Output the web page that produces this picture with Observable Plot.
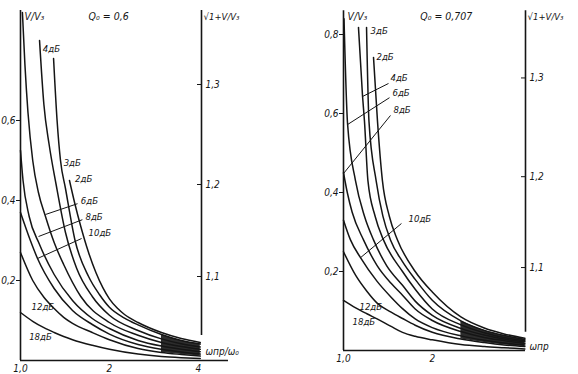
<!DOCTYPE html>
<html><head><meta charset="utf-8">
<script src="https://cdn.jsdelivr.net/npm/d3@7"></script>
<script src="https://cdn.jsdelivr.net/npm/@observablehq/plot@0.6"></script>
<style>
body{margin:0;background:#fff;}
#wrap{position:relative;width:578px;height:374px;overflow:hidden;background:#fff;}
#wrap svg{position:absolute;top:0;}
</style></head><body><div id="wrap"></div>
<script>
// ---- Left panel (Q0 = 0,6): curves [ω/ω0, V/V3]
const L2  = [[1.465,0.45],[1.53,0.39],[1.6,0.335],[1.7,0.27],[1.8,0.22],[1.9,0.182],[2,0.154],[2.125,0.131],[2.25,0.115],[2.5,0.095],[3,0.07],[3.5,0.055],[4.06,0.045]];
const L3  = [[1.294,0.755],[1.33,0.6],[1.366,0.5],[1.42,0.43],[1.53,0.3],[1.7,0.21],[1.85,0.165],[2,0.133],[2.25,0.106],[2.5,0.089],[3,0.065],[3.5,0.05],[4.06,0.041]];
const L4  = [[1.16,0.8],[1.2,0.64],[1.25,0.54],[1.32,0.44],[1.42,0.32],[1.55,0.23],[1.75,0.16],[2,0.113],[2.5,0.075],[3,0.054],[3.5,0.042],[4.06,0.034]];
const L6  = [[1.015,0.87],[1.035,0.74],[1.06,0.62],[1.1,0.5],[1.15,0.42],[1.215,0.36],[1.3,0.295],[1.4,0.24],[1.6,0.16],[2,0.095],[2.5,0.063],[3,0.045],[3.5,0.035],[4.06,0.028]];
const L8  = [[1,0.525],[1.02,0.45],[1.07,0.36],[1.16,0.29],[1.3,0.215],[1.5,0.15],[1.75,0.105],[2,0.08],[2.5,0.05],[3,0.036],[3.5,0.028],[4.06,0.022]];
const L10 = [[1,0.37],[1.08,0.3],[1.142,0.255],[1.3,0.18],[1.5,0.125],[1.75,0.09],[2,0.066],[2.5,0.04],[3,0.028],[3.5,0.021],[4.06,0.016]];
const L12 = [[1,0.27],[1.1,0.2],[1.2,0.158],[1.3,0.13],[1.4,0.108],[1.5,0.093],[1.75,0.07],[2,0.052],[2.5,0.03],[3,0.02],[3.5,0.015],[4.06,0.011]];
const L18 = [[1,0.12],[1.1,0.098],[1.2,0.082],[1.3,0.07],[1.4,0.06],[1.5,0.052],[1.75,0.038],[2,0.028],[2.5,0.016],[3,0.01],[3.5,0.007],[4.06,0.005]];

// ---- Right panel (Q0 = 0,707)
const R2  = [[1.264,0.742],[1.304,0.58],[1.355,0.43],[1.43,0.34],[1.524,0.28],[1.75,0.2],[2,0.148],[2.5,0.085],[3,0.057],[3.5,0.042],[4.12,0.031]];
const R3  = [[1.197,0.818],[1.22,0.58],[1.29,0.43],[1.36,0.34],[1.443,0.28],[1.585,0.225],[1.75,0.18],[2,0.127],[2.5,0.075],[3,0.051],[3.5,0.038],[4.12,0.028]];
const R4  = [[1.124,0.818],[1.16,0.645],[1.178,0.58],[1.21,0.43],[1.28,0.34],[1.366,0.28],[1.585,0.2],[1.75,0.155],[2,0.105],[2.5,0.065],[3,0.045],[3.5,0.033],[4.12,0.025]];
const R6  = [[1.004,0.84],[1.032,0.575],[1.098,0.43],[1.178,0.34],[1.264,0.28],[1.4,0.215],[1.585,0.165],[1.75,0.125],[2,0.089],[2.5,0.056],[3,0.039],[3.5,0.029],[4.12,0.022]];
const R8  = [[1,0.45],[1.03,0.4],[1.07,0.35],[1.169,0.28],[1.3,0.215],[1.45,0.17],[1.585,0.14],[1.75,0.105],[2,0.076],[2.5,0.048],[3,0.033],[3.5,0.025],[4.12,0.018]];
const R10 = [[1,0.33],[1.056,0.28],[1.142,0.235],[1.3,0.175],[1.45,0.135],[1.585,0.106],[1.75,0.08],[2,0.058],[2.5,0.037],[3,0.026],[3.5,0.019],[4.12,0.014]];
const R12 = [[1,0.25],[1.1,0.19],[1.2,0.15],[1.3,0.12],[1.45,0.097],[1.585,0.081],[1.75,0.064],[2,0.046],[2.5,0.029],[3,0.02],[3.5,0.014],[4.12,0.01]];
const R18 = [[1,0.127],[1.1,0.108],[1.2,0.093],[1.3,0.08],[1.45,0.061],[1.585,0.046],[1.75,0.036],[2,0.027],[2.5,0.015],[3,0.01],[3.5,0.007],[4.12,0.004]];

// ---- tick labels
const yTicksLeft  = [0.2, 0.4, 0.6];
const yTicksRight = [0.2, 0.4, 0.6, 0.8];
const yTickTextLeft  = ["0,2", "0,4", "0,6"];
const yTickTextRight = ["0,2", "0,4", "0,6", "0,8"];
const sqrtTicks = [1.1, 1.2, 1.3];
const sqrtTickText = ["1,1", "1,2", "1,3"];
const xTicksLeft = [1, 2, 4];
const xTickTextLeft = ["1,0", "2", "4"];
const xTicksRight = [1, 2];
const xTickTextRight = ["1,0", "2"];

// ---- curve labels: [text, x, y, leaderX1, leaderY1, leaderX2, leaderY2]
const labelsLeft = [
  ["4дБ", 1.19, 0.78], ["3дБ", 1.40, 0.495], ["2дБ", 1.53, 0.455],
  ["6дБ", 1.60, 0.40, 1.56, 0.392, 1.215, 0.365],
  ["8дБ", 1.66, 0.36, 1.62, 0.352, 1.151, 0.31],
  ["10дБ", 1.70, 0.32, 1.61, 0.305, 1.142, 0.255],
  ["12дБ", 1.09, 0.135], ["18дБ", 1.07, 0.058]
];
const labelsRight = [
  ["3дБ", 1.235, 0.81], ["2дБ", 1.294, 0.742],
  ["4дБ", 1.443, 0.689, 1.421, 0.676, 1.16, 0.643],
  ["6дБ", 1.466, 0.651, 1.432, 0.64, 1.032, 0.572],
  ["8дБ", 1.477, 0.61, 1.443, 0.595, 1.0, 0.448],
  ["10дБ", 1.661, 0.334, 1.572, 0.3215, 1.142, 0.235],
  ["12дБ", 1.133, 0.111], ["18дБ", 1.073, 0.073]
];

const FONT = "DejaVu Sans Condensed, DejaVu Sans, sans-serif";
const INK = "#151515";

function band(top, bottom, from) {
  // dense inked zone between two curves towards the right end
  const b = new Map(bottom.map(([x, v]) => [x, v]));
  return top.filter(([x]) => x >= from && b.has(x)).map(([x, v]) => ({x, hi: v, lo: b.get(x)}));
}

function panel(p) {
  const data = p.curves.flatMap(([name, pts]) => pts.map(([x, v]) => ({name, x, v})));
  const lead = p.labels.filter(d => d.length > 3);
  return Plot.plot({
    width: p.width, height: 374,
    marginLeft: p.ml, marginRight: p.mr, marginTop: p.mt, marginBottom: p.mb,
    x: {type: "log", domain: p.xDomain, axis: null},
    y: {domain: [0, 0.8], axis: null},
    style: {fontFamily: FONT, fontSize: "10px", background: "transparent", color: INK},
    marks: [
      Plot.areaY(p.band, {x: "x", y1: "lo", y2: "hi", curve: "monotone-x", fill: INK, fillOpacity: 0.9}),
      Plot.line(data, {x: "x", y: "v", z: "name", curve: "monotone-x", stroke: INK, strokeWidth: 1.5}),
      // axes
      Plot.ruleX([1], {y1: 0, y2: p.axisTop, stroke: INK, strokeWidth: 1.6}),
      Plot.ruleY([0], {x1: 1, x2: p.xAxisEnd, stroke: INK, strokeWidth: 1.4}),
      Plot.ruleX([p.xRight], {y1: p.rightBottom, y2: p.axisTop, stroke: INK, strokeWidth: 1.6}),
      Plot.ruleY(p.yTicks, {y: d => d, x1: 1, x2: 1, insetLeft: -4, stroke: INK}),
      Plot.ruleY(sqrtTicks, {y: t => t * t - 1, x1: p.xRight, x2: p.xRight, insetLeft: -4, stroke: INK}),
      Plot.text(p.yTicks, {x: 1, y: d => d, text: (d, i) => p.yText[i], textAnchor: "end", dx: -5, fontStyle: "italic"}),
      Plot.text(sqrtTicks, {x: p.xRight, y: t => t * t - 1, text: (d, i) => sqrtTickText[i], textAnchor: "start", dx: 4, fontStyle: "italic"}),
      Plot.text(p.xTicks, {x: d => d, y: 0, text: (d, i) => p.xText[i], dy: p.xTickDy, fontStyle: "italic", fontSize: 10}),
      // curve labels
      Plot.link(lead, {x1: d => d[3], y1: d => d[4], x2: d => d[5], y2: d => d[6], stroke: INK, strokeWidth: 1}),
      Plot.text(p.labels, {x: d => d[1], y: d => d[2], text: d => d[0], textAnchor: "start", fontStyle: "italic", fontSize: 9.5}),
      // titles
      Plot.text([p.title], {x: p.titleX, y: p.titleY, text: d => d, textAnchor: "start", fontStyle: "italic", fontSize: 10.5}),
      Plot.text(["V/V₃"], {x: 1, y: p.titleY, text: d => d, textAnchor: "start", dx: 4, fontStyle: "italic", fontSize: 10.5}),
      Plot.text(["√1+V/V₃"], {x: p.xRight, y: p.titleY, text: d => d, textAnchor: "start", dx: 2, fontStyle: "italic", fontSize: 9.5}),
      Plot.text([p.xLabel], {x: p.xRight, y: p.xLabelY, text: d => d, textAnchor: "start", dx: 4, fontStyle: "italic", fontSize: 10})
    ]
  });
}

const left = panel({
  width: 290, ml: 20, mr: 89, mt: 40, mb: 14, xDomain: [1, 4.1],
  curves: [["2", L2], ["3", L3], ["4", L4], ["6", L6], ["8", L8], ["10", L10], ["12", L12], ["18", L18]],
  band: band(L3, L12, 3),
  labels: labelsLeft, yTicks: yTicksLeft, yText: yTickTextLeft,
  xTicks: xTicksLeft, xText: xTickTextLeft, xTickDy: 8,
  axisTop: 0.875, xAxisEnd: 5.06, xRight: 4.1, rightBottom: 0.0625,
  title: "Q₀ = 0,6", titleX: 1.70, titleY: 0.86, xLabel: "ωпр/ω₀", xLabelY: 0.022
});
const right = panel({
  width: 288, ml: 53, mr: 53, mt: 34, mb: 24, xDomain: [1, 4.14],
  curves: [["2", R2], ["3", R3], ["4", R4], ["6", R6], ["8", R8], ["10", R10], ["12", R12], ["18", R18]],
  band: band(R3, R12, 2.5),
  labels: labelsRight, yTicks: yTicksRight, yText: yTickTextRight,
  xTicks: xTicksRight, xText: xTickTextRight, xTickDy: 8,
  axisTop: 0.86, xAxisEnd: 4.14, xRight: 4.14, rightBottom: 0.046,
  title: "Q₀ = 0,707", titleX: 1.82, titleY: 0.845, xLabel: "ωпр", xLabelY: 0.01
});
left.style.left = "0px";
right.style.left = "290px";
document.getElementById("wrap").append(left, right);
</script>
</body></html>
